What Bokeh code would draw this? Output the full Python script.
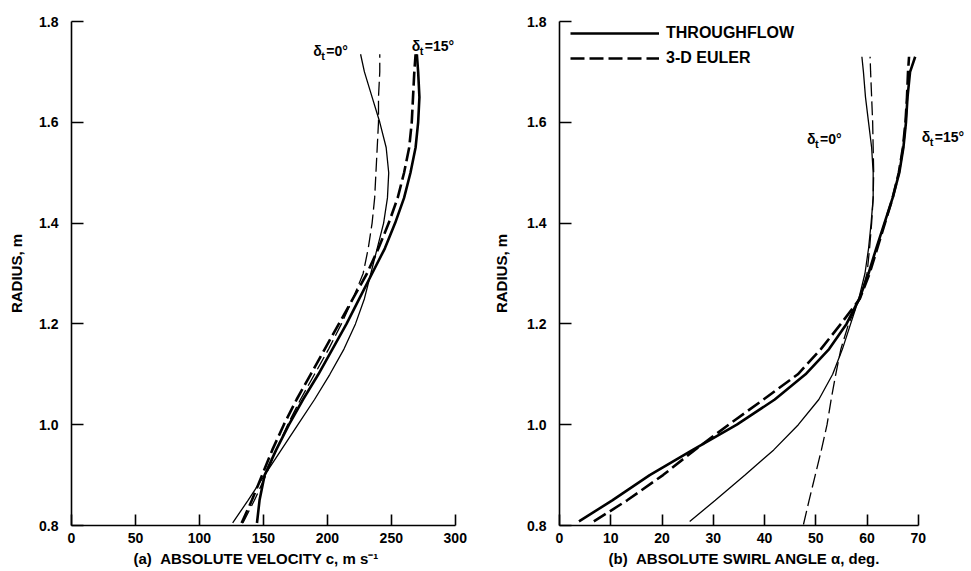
from bokeh.plotting import figure
from bokeh.layouts import row
from bokeh.models import (Range1d, FixedTicker, NumeralTickFormatter, Legend,
                          LegendItem, Label, Title)
from bokeh.embed import file_html
from bokeh.resources import INLINE

# ---------------- data: (a) absolute velocity c (m/s) vs radius (m) ----------------
radius_a = [0.805, 0.85, 0.90, 0.95, 1.00, 1.05, 1.10, 1.15, 1.20, 1.25,
            1.30, 1.35, 1.40, 1.45, 1.50, 1.55, 1.60, 1.65, 1.70, 1.735]
vel_tf_d0 = [126, 138, 151, 164, 177, 190, 202, 213, 222, 229,
             234, 239, 244, 247, 248, 246, 241, 235, 229, 226]
vel_eu_d0 = [134, 143, 152, 160, 169, 179, 190, 201, 211, 220,
             228, 232, 235, 237, 238, 239, 240, 240, 241, 241]
vel_tf_d15 = [145, 147, 151, 160, 170, 181, 193, 204, 215, 225,
              235, 245, 253, 260, 265, 269, 271, 272, 271, 270]
vel_eu_d15 = [133, 141, 149, 157, 166, 176, 187, 198, 209, 220,
              231, 240, 248, 255, 260, 264, 266, 267, 268, 269]

# ---------------- data: (b) absolute swirl angle (deg) vs radius (m) ----------------
radius_b = [0.808, 0.85, 0.90, 0.95, 1.00, 1.05, 1.10, 1.15, 1.20, 1.25,
            1.30, 1.35, 1.40, 1.45, 1.50, 1.55, 1.60, 1.65, 1.70, 1.73]
ang_tf_d15 = [3.8, 10.3, 17.6, 26.0, 34.6, 42.0, 48.0, 52.6, 56.0, 58.5,
              60.3, 61.8, 63.4, 65.0, 66.3, 67.1, 67.6, 67.9, 68.4, 69.4]
ang_eu_d15 = [6.7, 13.2, 20.2, 26.4, 33.0, 39.8, 46.5, 51.0, 54.9, 58.6,
              60.5, 62.0, 63.5, 65.0, 66.2, 67.0, 67.5, 67.8, 68.0, 68.2]
ang_tf_d0 = [25.4, 30.4, 36.2, 41.8, 46.6, 50.6, 53.3, 55.2, 56.8, 58.4,
             59.6, 60.3, 60.8, 61.2, 61.2, 60.9, 60.3, 59.7, 59.3, 59.0]
radius_b_eu0 = [0.802, 0.85, 0.90, 0.95, 1.00, 1.05, 1.10, 1.15, 1.20, 1.25,
                1.30, 1.35, 1.40, 1.45, 1.50, 1.55, 1.60, 1.65, 1.70, 1.73]
ang_eu_d0 = [47.6, 48.7, 49.9, 51.1, 52.2, 53.0, 53.9, 54.9, 56.4, 58.6,
             60.0, 60.5, 60.9, 61.2, 61.3, 61.2, 61.1, 60.9, 60.7, 60.6]

y_ticks = [0.8, 1.0, 1.2, 1.4, 1.6, 1.8]
x_ticks_a = [0, 50, 100, 150, 200, 250, 300]
x_ticks_b = [0, 10, 20, 30, 40, 50, 60, 70]

FONT = "Liberation Sans"
THIN = 1.3
THICK = 2.6
DASH = "14 5"
NB = "\u00a0"


def style(p, xticks, xbounds, ylabel_standoff):
    p.xgrid.visible = False
    p.ygrid.visible = False
    p.outline_line_color = None
    p.background_fill_color = "white"
    p.border_fill_color = "white"
    p.xaxis.ticker = FixedTicker(ticks=xticks)
    p.xaxis.bounds = xbounds
    p.yaxis.ticker = FixedTicker(ticks=y_ticks)
    p.yaxis.formatter = NumeralTickFormatter(format="0.0")
    for ax in p.xaxis + p.yaxis:
        ax.axis_line_color = "black"
        ax.axis_line_width = 1.6
        ax.major_tick_line_color = "black"
        ax.major_tick_line_width = 1.6
        ax.major_tick_out = 0
        ax.minor_tick_line_color = None
        ax.major_label_text_font = FONT
        ax.major_label_text_font_style = "bold"
        ax.major_label_text_font_size = "14px"
        ax.major_label_text_color = "black"
    p.xaxis.major_tick_in = 11
    p.yaxis.major_tick_in = 12
    p.xaxis.major_label_standoff = 7
    p.yaxis.major_label_standoff = 13
    p.yaxis.axis_label = "RADIUS, m"
    p.yaxis.axis_label_text_font = FONT
    p.yaxis.axis_label_text_font_style = "bold"
    p.yaxis.axis_label_text_font_size = "15px"
    p.yaxis.axis_label_text_color = "black"
    p.yaxis.axis_label_standoff = ylabel_standoff


def delta_label(p, x, y, val):
    common = dict(text_font=FONT, text_font_style="bold", text_color="black",
                  text_baseline="middle", text_align="left")
    p.add_layout(Label(x=x, y=y, text="δ", text_font_size="14px", **common))
    p.add_layout(Label(x=x, y=y, x_offset=8, y_offset=-5, text="t",
                       text_font_size="11px", **common))
    p.add_layout(Label(x=x, y=y, x_offset=13, text="=" + val + "°",
                       text_font_size="14px", **common))


def x_title(p, text, offset):
    p.add_layout(Title(text=text, align="left", offset=offset, standoff=4,
                       text_font=FONT, text_font_style="bold",
                       text_font_size="15px", text_color="black"), "below")


# ---------------- (a) ----------------
p1 = figure(width=488, height=570, x_range=Range1d(0, 326), y_range=Range1d(0.8, 1.8),
            output_backend="svg", toolbar_location=None,
            min_border_left=71, min_border_right=0, min_border_top=21, min_border_bottom=45)
style(p1, x_ticks_a, (0, 300), 11)
p1.line(vel_tf_d0, radius_a, line_color="black", line_width=THIN)
p1.line(vel_eu_d0, radius_a, line_color="black", line_width=THIN, line_dash=DASH)
p1.line(vel_tf_d15, radius_a, line_color="black", line_width=THICK)
p1.line(vel_eu_d15, radius_a, line_color="black", line_width=THICK, line_dash=DASH)
delta_label(p1, 189, 1.742, "0")
delta_label(p1, 266, 1.752, "15")
x_title(p1, "(a)" + NB + NB + "ABSOLUTE VELOCITY c, m s⁻¹", 62)

# ---------------- (b) ----------------
p2 = figure(width=480, height=570, x_range=Range1d(0, 79.8), y_range=Range1d(0.8, 1.8),
            output_backend="svg", toolbar_location=None,
            min_border_left=71, min_border_right=0, min_border_top=21, min_border_bottom=45)
style(p2, x_ticks_b, (0, 70), 14)
p2.line(ang_tf_d0, radius_b, line_color="black", line_width=THIN)
p2.line(ang_eu_d0, radius_b_eu0, line_color="black", line_width=THIN, line_dash=DASH)
r_tf = p2.line(ang_tf_d15, radius_b, line_color="black", line_width=THICK)
r_eu = p2.line(ang_eu_d15, radius_b, line_color="black", line_width=THICK, line_dash=DASH)
delta_label(p2, 48.3, 1.566, "0")
delta_label(p2, 70.7, 1.57, "15")
x_title(p2, "(b)" + NB + NB + "ABSOLUTE SWIRL ANGLE α, deg.", 49)

legend = Legend(items=[LegendItem(label="THROUGHFLOW", renderers=[r_tf]),
                       LegendItem(label="3-D EULER", renderers=[r_eu])],
                location=(11, 455), glyph_width=89, glyph_height=24,
                label_standoff=7, spacing=1, padding=0, margin=0,
                border_line_color=None, background_fill_alpha=0,
                label_text_font=FONT, label_text_font_style="bold",
                label_text_font_size="16px", label_text_color="black")
p2.add_layout(legend)

layout = row(p1, p2)
open("out.html", "w").write(file_html(layout, INLINE))
